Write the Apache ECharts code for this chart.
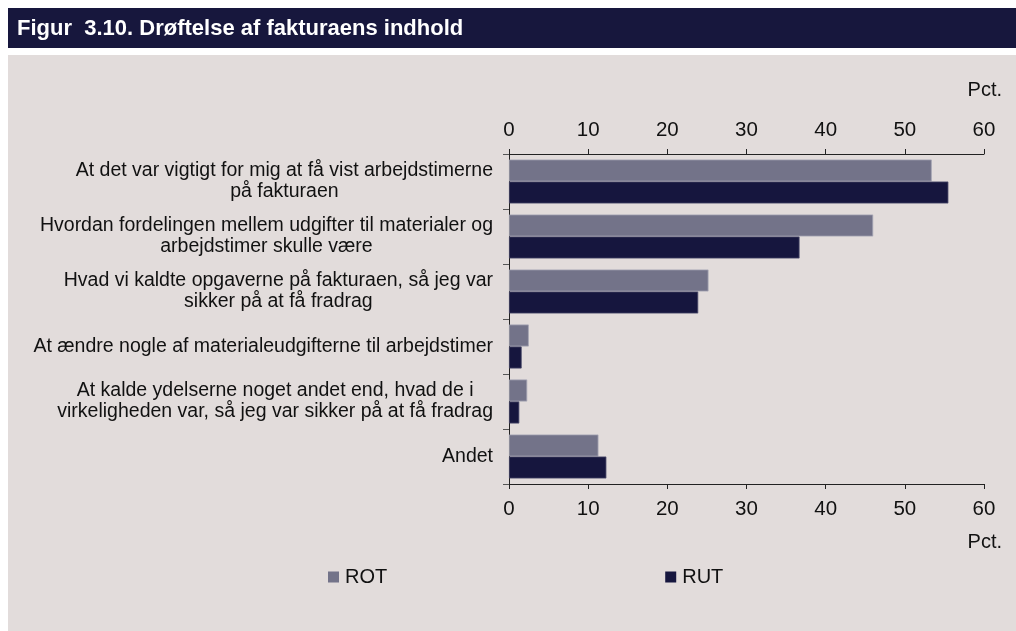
<!DOCTYPE html>
<html>
<head>
<meta charset="utf-8">
<script src="https://cdn.jsdelivr.net/npm/echarts@6/dist/echarts.min.js"></script>
<style>
html,body{margin:0;padding:0;background:#ffffff;}
#chart{width:1016px;height:631px;}
</style>
</head>
<body>
<div id="chart"></div>
<script>
const categories = [
  "At det var vigtigt for mig at få vist arbejdstimerne\npå fakturaen",
  "Hvordan fordelingen mellem udgifter til materialer og\narbejdstimer skulle være",
  "Hvad vi kaldte opgaverne på fakturaen, så jeg var\nsikker på at få fradrag",
  "At ændre nogle af materialeudgifterne til arbejdstimer",
  "At kalde ydelserne noget andet end, hvad de i\nvirkeligheden var, så jeg var sikker på at få fradrag",
  "Andet"
];
const rotValues = [53.4, 46.0, 25.2, 2.5, 2.3, 11.3];
const rutValues = [55.5, 36.7, 23.9, 1.6, 1.3, 12.3];
const seriesNames = ["ROT", "RUT"];
const titleText = "Figur  3.10. Drøftelse af fakturaens indhold";
const unitText = "Pct.";

const FONT = "'Liberation Sans', Arial, sans-serif";
const chart = echarts.init(document.getElementById('chart'), null, {renderer: 'canvas'});

function valueAxis(position, margin) {
  return {
    type: 'value', min: 0, max: 60, interval: 10, position: position,
    axisLine: {show: true, onZero: false, lineStyle: {color: '#222', width: 1}},
    axisTick: {show: true, length: 5, lineStyle: {color: '#222'}},
    splitLine: {show: false},
    axisLabel: {color: '#111', fontSize: 20.5, fontFamily: FONT, margin: margin}
  };
}

chart.setOption({
  backgroundColor: '#ffffff',
  animation: false,
  graphic: [
    {type: 'rect', shape: {x: 8, y: 8, width: 1008, height: 40}, style: {fill: '#17173d'}, z: -10, silent: true},
    {type: 'rect', shape: {x: 8, y: 55, width: 1008, height: 576}, style: {fill: '#e2dcdb'}, z: -10, silent: true},
    {type: 'text', right: 14, top: 80, style: {text: unitText, fill: '#111', font: '20px ' + FONT}},
    {type: 'text', right: 14, top: 532, style: {text: unitText, fill: '#111', font: '20px ' + FONT}}
  ],
  title: {
    text: titleText, left: 17, top: 18, padding: 0,
    textStyle: {color: '#ffffff', fontSize: 22, fontWeight: 'bold', fontFamily: FONT}
  },
  legend: {
    data: seriesNames, left: 328, top: 567, itemWidth: 11, itemHeight: 11, itemGap: 278,
    icon: 'rect', padding: 0,
    itemStyle: {borderWidth: 0},
    textStyle: {color: '#111', fontSize: 20, fontFamily: FONT, padding: [0, 0, 0, 1]}
  },
  grid: {left: 509, right: 32, top: 154, bottom: 147, containLabel: false},
  xAxis: [
    valueAxis('bottom', 15),
    valueAxis('top', 13)
  ],
  yAxis: {
    type: 'category', data: categories, inverse: true,
    axisLine: {show: true, lineStyle: {color: '#222', width: 1}},
    axisTick: {show: true, length: 6, lineStyle: {color: '#555'}},
    axisLabel: {
      margin: 16, color: '#111', fontSize: 19.5, fontFamily: FONT, lineHeight: 21,
      formatter: function (v) { return v.split('\n').map(function (s) { return '{c|' + s + '}'; }).join('\n'); },
      rich: {c: {align: 'center', fontSize: 19.5, fontFamily: FONT, color: '#111', lineHeight: 21}}
    }
  },
  series: [
    {name: seriesNames[0], type: 'bar', data: rotValues, xAxisIndex: 0,
     barGap: '0%', barCategoryGap: '20%',
     itemStyle: {color: '#737389', borderColor: '#a4a4b4', borderWidth: 0.8}},
    {name: seriesNames[1], type: 'bar', data: rutValues, xAxisIndex: 0,
     barGap: '0%', barCategoryGap: '20%',
     itemStyle: {color: '#16163e', borderColor: '#4a4a6a', borderWidth: 0.8}}
  ]
});
</script>
</body>
</html>
